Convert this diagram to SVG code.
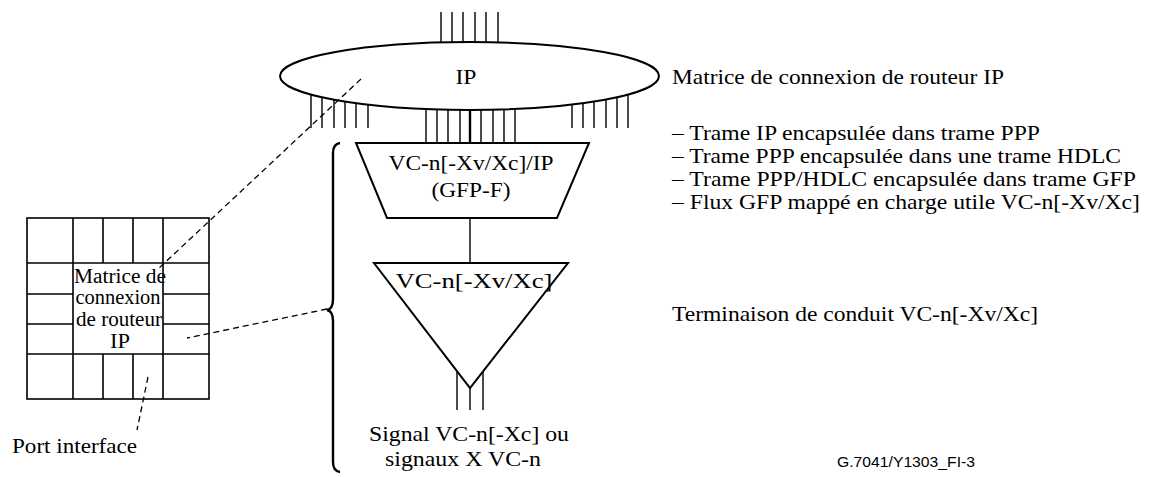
<svg xmlns="http://www.w3.org/2000/svg" width="1158" height="477" viewBox="0 0 1158 477">
<style>
.t{font-family:'Liberation Serif','Times New Roman',serif;font-size:22px;fill:#000}
.g{font-family:'Liberation Serif','Times New Roman',serif;font-size:20px;fill:#000}
.a{font-family:'Liberation Sans',Arial,sans-serif;font-size:15px;fill:#000}
.ln{stroke:#000;stroke-width:1.4;fill:none}
.sh{stroke:#000;stroke-width:2;fill:#fff}
.d{stroke:#000;stroke-width:1.3;stroke-dasharray:6 4;fill:none}
</style>
<rect width="1158" height="477" fill="#fff"/>

<g id="ports">
<path class="ln" d="M441 12V60M452 12V60M463 12V60M475 12V60M486 12V60M498 12V60"/>
<path class="ln" d="M311 85V128M322 85V128M334 85V128M345 85V128M356 85V128M368 85V128"/>
<path class="ln" d="M572 85V128M583 85V128M594 85V128M606 85V128M617 85V128M628 85V128"/>
<path class="ln" d="M426 90V143M437 90V143M448 90V143M460 90V143M481 90V143M493 90V143M504 90V143M515 90V143"/>
<path stroke="#000" stroke-width="2.4" d="M470 90V143"/>
</g>

<g id="ip-matrix">
<ellipse class="sh" cx="469.5" cy="76" rx="189.5" ry="34"/>
<text class="t" x="466" y="84" text-anchor="middle" textLength="21" lengthAdjust="spacingAndGlyphs">IP</text>
</g>

<g id="adaptation">
<polygon class="sh" points="356,143 589,143 557,218 387,218"/>
<text class="t" x="471" y="170" text-anchor="middle" textLength="165" lengthAdjust="spacingAndGlyphs">VC-n[-Xv/Xc]/IP</text>
<text class="t" x="471" y="197" text-anchor="middle" textLength="79" lengthAdjust="spacingAndGlyphs">(GFP-F)</text>
</g>

<g id="connectors">
<path class="ln" d="M470 218V263"/>
<path class="ln" d="M457 371V410M483 371V410M470 388V410"/>
</g>

<g id="termination">
<polygon class="sh" points="374,263 568,263 470,388"/>
<text class="t" x="474" y="288" text-anchor="middle" textLength="157" lengthAdjust="spacingAndGlyphs">VC-n[-Xv/Xc]</text>
</g>

<g id="signal-label">
<text class="t" x="469" y="441" text-anchor="middle" textLength="200" lengthAdjust="spacingAndGlyphs">Signal VC-n[-Xc] ou</text>
<text class="t" x="463" y="466" text-anchor="middle" textLength="156" lengthAdjust="spacingAndGlyphs">signaux X VC-n</text>
</g>

<g id="brace">
<path d="M340 143Q333 144 333 153V299Q333 309 327 310Q333 311 333 321V462Q333 471 340 472" fill="none" stroke="#000" stroke-width="2.4"/>
</g>

<g id="router-grid">
<rect x="27" y="218" width="182" height="181" fill="none" stroke="#000" stroke-width="1.6"/>
<path stroke="#000" stroke-width="1.6" fill="none" d="M27 263H209M27 354H209M73 218V399M163 218V399M103 218V263M133 218V263M103 354V399M133 354V399M27 294H73M27 324H73M163 294H209M163 324H209"/>
<text class="g" x="120" y="283" text-anchor="middle" textLength="92" lengthAdjust="spacingAndGlyphs">Matrice de</text>
<text class="g" x="118" y="304" text-anchor="middle" textLength="85" lengthAdjust="spacingAndGlyphs">connexion</text>
<text class="g" x="119" y="326" text-anchor="middle" textLength="86" lengthAdjust="spacingAndGlyphs">de routeur</text>
<text class="g" x="120" y="348" text-anchor="middle" textLength="20" lengthAdjust="spacingAndGlyphs">IP</text>
</g>

<g id="dashed">
<path class="d" d="M361 79L157 270"/>
<path class="d" d="M327 309L187 338"/>
<path class="d" d="M148 377L137 430"/>
</g>

<g id="port-label">
<text class="t" x="12" y="453" textLength="125" lengthAdjust="spacingAndGlyphs">Port interface</text>
</g>

<g id="descriptions">
<text class="t" x="672" y="84" textLength="332" lengthAdjust="spacingAndGlyphs">Matrice de connexion de routeur IP</text>
<text class="t" x="672" y="140" textLength="368" lengthAdjust="spacingAndGlyphs">– Trame IP encapsulée dans trame PPP</text>
<text class="t" x="672" y="163" textLength="449" lengthAdjust="spacingAndGlyphs">– Trame PPP encapsulée dans une trame HDLC</text>
<text class="t" x="672" y="186" textLength="464" lengthAdjust="spacingAndGlyphs">– Trame PPP/HDLC encapsulée dans trame GFP</text>
<text class="t" x="672" y="209" textLength="468" lengthAdjust="spacingAndGlyphs">– Flux GFP mappé en charge utile VC-n[-Xv/Xc]</text>
<text class="t" x="672" y="321" textLength="366" lengthAdjust="spacingAndGlyphs">Terminaison de conduit VC-n[-Xv/Xc]</text>
</g>

<g id="figure-id">
<text class="a" x="837" y="467" textLength="138" lengthAdjust="spacingAndGlyphs">G.7041/Y1303_FI-3</text>
</g>
</svg>
